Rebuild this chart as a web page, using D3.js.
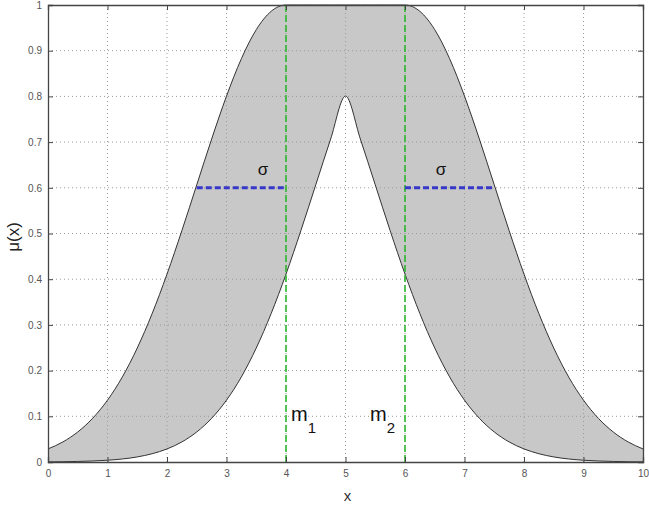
<!DOCTYPE html>
<html><head><meta charset="utf-8">
<script src="https://cdn.jsdelivr.net/npm/d3@7"></script>
<style>body{margin:0;background:#fff}svg{display:block}</style>
</head><body>
<svg id="c" width="649" height="506"></svg>
<script>
const xs = [0,0.25,0.5,0.75,1,1.25,1.5,1.75,2,2.25,2.5,2.75,3,3.25,3.5,3.75,4,4.25,4.5,4.75,5,5.25,5.5,5.75,6,6.25,6.5,6.75,7,7.25,7.5,7.75,8,8.25,8.5,8.75,9,9.25,9.5,9.75,10];
const upperMF = [0.0286,0.0439,0.0657,0.0956,0.1353,0.1862,0.2494,0.3247,0.4111,0.5063,0.6065,0.7066,0.8007,0.8825,0.9460,0.9862,1,1,1,1,1,1,1,1,1,0.9862,0.9460,0.8825,0.8007,0.7066,0.6065,0.5063,0.4111,0.3247,0.2494,0.1862,0.1353,0.0956,0.0657,0.0439,0.0286];
const lowerMF = [0.0003,0.0006,0.0012,0.0022,0.0039,0.0066,0.0111,0.0181,0.0286,0.0439,0.0657,0.0956,0.1353,0.1862,0.2494,0.3247,0.4111,0.5063,0.6065,0.7066,0.8007,0.7066,0.6065,0.5063,0.4111,0.3247,0.2494,0.1862,0.1353,0.0956,0.0657,0.0439,0.0286,0.0181,0.0111,0.0066,0.0039,0.0022,0.0012,0.0006,0.0003];
const means = [4, 6];
const meanLabels = ["m","m"];
const meanSubs = ["1","2"];
const sigmaSegments = [[2.5,4],[6,7.5]];
const sigmaLevel = 0.6;
const xTicks = [0,1,2,3,4,5,6,7,8,9,10];
const yTicks = [0,0.1,0.2,0.3,0.4,0.5,0.6,0.7,0.8,0.9,1];
const yTickLabels = ["0","0.1","0.2","0.3","0.4","0.5","0.6","0.7","0.8","0.9","1"];

const L=48,R=643,T=5,B=462;
const svg=d3.select("#c");
const x=d3.scaleLinear().domain([0,10]).range([L,R]);
const y=d3.scaleLinear().domain([0,1]).range([B,T]);
const data=xs.map((v,i)=>({x:v,u:upperMF[i],l:lowerMF[i]}));

// filled FOU
svg.append("path").datum(data)
  .attr("d",d3.area().x(d=>x(d.x)).y0(d=>y(d.l)).y1(d=>y(d.u)).curve(d3.curveMonotoneX))
  .attr("fill","#c8c8c8");

// grid
const g=svg.append("g");
g.selectAll(".gx").data(xTicks.slice(1,-1)).join("line")
  .attr("x1",d=>x(d)).attr("x2",d=>x(d)).attr("y1",T).attr("y2",B)
  .attr("stroke","#9a9a9a").attr("stroke-width",1).attr("stroke-dasharray","1,3");
g.selectAll(".gy").data(yTicks.slice(1,-1)).join("line")
  .attr("y1",d=>y(d)).attr("y2",d=>y(d)).attr("x1",L).attr("x2",R)
  .attr("stroke","#9a9a9a").attr("stroke-width",1).attr("stroke-dasharray","1,3");

// curves
svg.append("path").datum(data)
  .attr("d",d3.line().x(d=>x(d.x)).y(d=>y(d.u)).curve(d3.curveMonotoneX))
  .attr("fill","none").attr("stroke","#333").attr("stroke-width",1);
svg.append("path").datum(data)
  .attr("d",d3.line().x(d=>x(d.x)).y(d=>y(d.l)).curve(d3.curveMonotoneX))
  .attr("fill","none").attr("stroke","#333").attr("stroke-width",1);

// mean lines
svg.selectAll(".ml").data(means).join("line")
  .attr("x1",d=>x(d)).attr("x2",d=>x(d)).attr("y1",y(0)).attr("y2",y(1))
  .attr("stroke","#2cb82c").attr("stroke-width",1.6).attr("stroke-dasharray","7,3");

// sigma segments
svg.selectAll(".sg").data(sigmaSegments).join("line")
  .attr("x1",d=>x(d[0])).attr("x2",d=>x(d[1])).attr("y1",y(sigmaLevel)).attr("y2",y(sigmaLevel))
  .attr("stroke","#3838c8").attr("stroke-width",3).attr("stroke-dasharray","6,3");
svg.selectAll(".st").data(sigmaSegments).join("text")
  .attr("x",(d,i)=>i===0?x(d[1])-23:x(d[0])+36).attr("y",y(sigmaLevel)-13)
  .attr("text-anchor","middle").attr("font-family","Liberation Sans, Arial, sans-serif")
  .attr("font-size",17).attr("fill","#111").text("σ");

// mean labels
means.forEach((m,i)=>{
  const t=svg.append("text").attr("x",i===0?x(m)+5:x(m)-35).attr("y",y(0.1)+5)
    .attr("font-family","Liberation Sans, Arial, sans-serif").attr("font-size",20).attr("fill","#111");
  t.append("tspan").text(meanLabels[i]);
  t.append("tspan").attr("dy",12).attr("font-size",15).text(meanSubs[i]);
});

// axes
const axB=svg.append("g").attr("transform",`translate(0,${B})`)
  .call(d3.axisBottom(x).tickValues(xTicks).tickSize(-5).tickPadding(8).tickFormat(d3.format("d")));
const axT=svg.append("g").attr("transform",`translate(0,${T})`)
  .call(d3.axisTop(x).tickValues(xTicks).tickSize(-5).tickFormat(""));
const axL=svg.append("g").attr("transform",`translate(${L},0)`)
  .call(d3.axisLeft(y).tickValues(yTicks).tickSize(-5).tickPadding(6).tickFormat((d,i)=>yTickLabels[i]));
const axR=svg.append("g").attr("transform",`translate(${R},0)`)
  .call(d3.axisRight(y).tickValues(yTicks).tickSize(-5).tickFormat(""));
[axB,axT,axL,axR].forEach(a=>{
  a.select(".domain").attr("stroke","#444").attr("stroke-width",1.3);
  a.selectAll(".tick line").attr("stroke","#444");
  a.selectAll("text").attr("font-family","Liberation Sans, Arial, sans-serif").attr("font-size",10).attr("fill","#555");
});

// axis labels
svg.append("text").attr("x",(L+R)/2+2).attr("y",501).attr("text-anchor","middle")
  .attr("font-family","Liberation Sans, Arial, sans-serif").attr("font-size",15).attr("fill","#333").text("x");
svg.append("text").attr("transform","translate(19,237) rotate(-90)").attr("text-anchor","middle")
  .attr("font-family","Liberation Sans, Arial, sans-serif").attr("font-size",17).attr("fill","#222").text("μ(x)");
</script>
</body></html>
